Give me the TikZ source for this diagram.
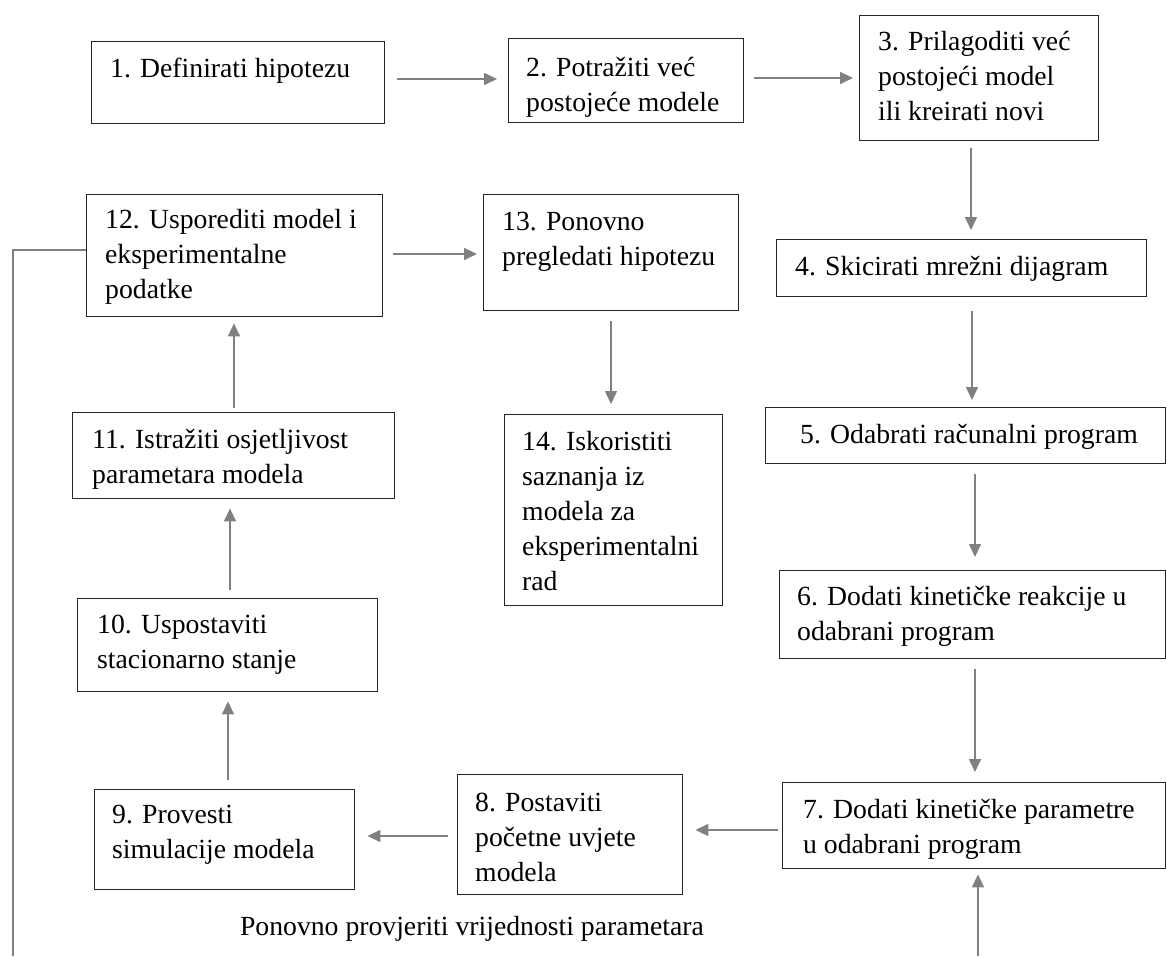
\documentclass[tikz,border=0pt]{standalone}
\usepackage{fontspec}
\setmainfont{Liberation Serif}
\usetikzlibrary{arrows.meta,calc}
\tikzset{
  box/.style={draw=black!85, line width=1.4pt, inner sep=0pt, anchor=north west},
  txt/.style={anchor=base west, inner sep=0pt, font=\fontsize{27.7}{35}\selectfont, text=black},
  arr/.style={draw=black!50, line width=1.5pt, -{Triangle[length=13pt,width=12pt]}},
  lnk/.style={draw=black!50, line width=1.5pt},
}
\newcommand{\ml}[1]{\begin{tabular}[t]{@{}l@{}}#1\end{tabular}}
\begin{document}
\begin{tikzpicture}[x=1pt,y=-1pt]
\useasboundingbox (0,0) rectangle (1167,956);
% boxes
\node[box, minimum width=293pt, minimum height=82pt]  (b1)  at (91,41) {};
\node[box, minimum width=235pt, minimum height=84pt]  (b2)  at (508,38) {};
\node[box, minimum width=239pt, minimum height=125pt] (b3)  at (859,15) {};
\node[box, minimum width=370pt, minimum height=57pt]  (b4)  at (776,239) {};
\node[box, minimum width=400pt, minimum height=56pt]  (b5)  at (765,407) {};
\node[box, minimum width=386pt, minimum height=88pt]  (b6)  at (779,570) {};
\node[box, minimum width=383pt, minimum height=86pt]  (b7)  at (782,782) {};
\node[box, minimum width=225pt, minimum height=120pt] (b8)  at (457,774) {};
\node[box, minimum width=260pt, minimum height=100pt] (b9)  at (94,789) {};
\node[box, minimum width=300pt, minimum height=93pt]  (b10) at (77,598) {};
\node[box, minimum width=322pt, minimum height=86pt]  (b11) at (72,412) {};
\node[box, minimum width=296pt, minimum height=122pt] (b12) at (86,194) {};
\node[box, minimum width=255pt, minimum height=116pt] (b13) at (483,194) {};
\node[box, minimum width=218pt, minimum height=191pt] (b14) at (504,414) {};
% texts
\node[txt] (t1)  at ($(b1.north west)+(19,36)$)  {\ml{1. Definirati hipotezu}};
\node[txt] (t2)  at ($(b2.north west)+(18,38)$)  {\ml{2. Potražiti već\\postojeće modele}};
\node[txt] (t3)  at ($(b3.north west)+(19,35)$)  {\ml{3. Prilagoditi već\\postojeći model\\ili kreirati novi}};
\node[txt] (t4)  at ($(b4.north west)+(19,36)$)  {\ml{4. Skicirati mrežni dijagram}};
\node[txt] (t5)  at ($(b5.north west)+(35,36)$)  {\ml{5. Odabrati računalni program}};
\node[txt] (t6)  at ($(b6.north west)+(18,35)$)  {\ml{6. Dodati kinetičke reakcije u\\odabrani program}};
\node[txt] (t7)  at ($(b7.north west)+(21,36)$)  {\ml{7. Dodati kinetičke parametre\\u odabrani program}};
\node[txt] (t8)  at ($(b8.north west)+(18,37)$)  {\ml{8. Postaviti\\početne uvjete\\modela}};
\node[txt] (t9)  at ($(b9.north west)+(18,34)$)  {\ml{9. Provesti\\simulacije modela}};
\node[txt] (t10) at ($(b10.north west)+(20,35)$) {\ml{10. Uspostaviti\\stacionarno stanje}};
\node[txt] (t11) at ($(b11.north west)+(20,36)$) {\ml{11. Istražiti osjetljivost\\parametara modela}};
\node[txt] (t12) at ($(b12.north west)+(19,34)$) {\ml{12. Usporediti model i\\eksperimentalne\\podatke}};
\node[txt] (t13) at ($(b13.north west)+(19,36)$) {\ml{13. Ponovno\\pregledati hipotezu}};
\node[txt] (t14) at ($(b14.north west)+(18,36)$) {\ml{14. Iskoristiti\\saznanja iz\\modela za\\eksperimentalni\\rad}};
\node[txt, anchor=base] (lab) at (472,935) {Ponovno provjeriti vrijednosti parametara};
% guide coordinates
\coordinate (y12) at (0,79);
\coordinate (y23) at (0,78);
\coordinate (x34) at (971,0);
\coordinate (x45) at (972,0);
\coordinate (x56) at (975,0);
\coordinate (x67) at (975,0);
\coordinate (y78) at (0,830);
\coordinate (y89) at (0,836);
\coordinate (x910) at (228,0);
\coordinate (x1011) at (230,0);
\coordinate (x1112) at (234,0);
\coordinate (y1213) at (0,254);
\coordinate (x1314) at (611,0);
\coordinate (l1) at (13,250);
\coordinate (l2) at (13,956);
\coordinate (r1) at (978,956);
% connectors
\draw[arr, shorten <=12pt, shorten >=11pt] (b1.east |- y12) -- (b2.west |- y12);
\draw[arr, shorten <=10pt, shorten >=6pt] (b2.east |- y23) -- (b3.west |- y23);
\draw[arr, shorten <=7pt, shorten >=9pt] (b3.south -| x34) -- (b4.north -| x34);
\draw[arr, shorten <=14pt, shorten >=7pt] (b4.south -| x45) -- (b5.north -| x45);
\draw[arr, shorten <=10pt, shorten >=13pt] (b5.south -| x56) -- (b6.north -| x56);
\draw[arr, shorten <=10pt, shorten >=10pt] (b6.south -| x67) -- (b7.north -| x67);
\draw[arr, shorten <=4pt, shorten >=12pt] (b7.west |- y78) -- (b8.east |- y78);
\draw[arr, shorten <=9pt, shorten >=12pt] (b8.west |- y89) -- (b9.east |- y89);
\draw[arr, shorten <=9pt, shorten >=9pt] (b9.north -| x910) -- (b10.south -| x910);
\draw[arr, shorten <=8pt, shorten >=9pt] (b10.north -| x1011) -- (b11.south -| x1011);
\draw[arr, shorten <=4pt, shorten >=6pt] (b11.north -| x1112) -- (b12.south -| x1112);
\draw[arr, shorten <=10pt, shorten >=6pt] (b12.east |- y1213) -- (b13.west |- y1213);
\draw[arr, shorten <=10pt, shorten >=10pt] (b13.south -| x1314) -- (b14.north -| x1314);
\draw[lnk] (b12.west |- l1) -- (l1) -- (l2);
\draw[arr, shorten >=5pt] (r1) -- (b7.south -| r1);
\end{tikzpicture}
\end{document}
